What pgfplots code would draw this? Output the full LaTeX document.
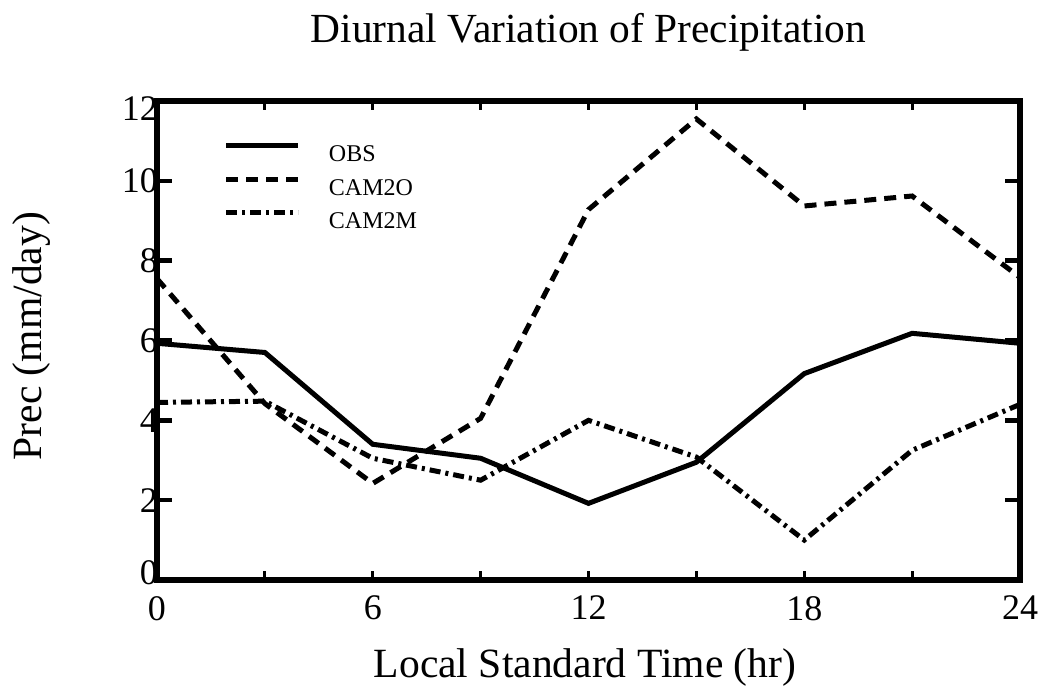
\documentclass[border=0pt]{standalone}
\usepackage{fontspec}
\setmainfont{Liberation Serif}
\usepackage{pgfplots}
\pgfplotsset{compat=1.18}
\begin{document}
\begin{tikzpicture}
\begin{axis}[
  name=ax,
  scale only axis, width=431.5pt, height=239.5pt,
  xmin=0, xmax=24, ymin=0, ymax=12,
  xtick={0,6,...,24}, minor xtick={0,3,...,24}, ytick={0,2,...,12},
  yticklabels={\raisebox{4pt}{0},2,4,6,8,10,\raisebox{-4pt}{12}},
  major x tick style={draw=none},
  minor tick length=4.5pt, major tick length=7.5pt,
  tick align=inside,
  minor x tick style={line width=1.5pt, black},
  major y tick style={line width=2.2pt, black},
  axis line style={line width=2.6pt},
  /pgf/number format/assume math mode=true,
  ticklabel style={font=\fontsize{18}{20}\selectfont},
  xticklabel style={yshift=-4.5pt},
  yticklabel style={xshift=4pt, text height=12pt, text depth=0pt},
  every axis title shift=0pt,
  title={Diurnal Variation of Precipitation},
  title style={font=\fontsize{20.7}{24}\selectfont, at={(axis description cs:0.5,1.1211)}, anchor=base},
  xlabel={Local Standard Time (hr)},
  xlabel style={font=\fontsize{20.8}{24}\selectfont, at={(axis description cs:0.496,-0.203)}, anchor=base},
  ylabel={Prec (mm/day)},
  ylabel style={font=\fontsize{20.8}{24}\selectfont, at={(axis description cs:-0.1333,0.509)}, anchor=base},
  legend style={at={(axis description cs:0.0776,0.9123)}, anchor=north west, draw=none, fill=none,
    inner sep=0pt, outer sep=0pt, row sep=7.6pt, column sep=14pt,
    font=\fontsize{12}{14}\selectfont, nodes={inner sep=0pt, text height=8pt, text depth=0pt}},
  legend cell align=left,
  legend image code/.code={\draw[#1] (0pt,4pt) -- (36pt,4pt);},
]
\addplot[black, line width=2.5pt] coordinates {
  (0,5.93) (3,5.7) (6,3.4) (9,3.05) (12,1.92) (15,2.95) (18,5.17) (21,6.18) (24,5.93)};
\addlegendentry{OBS}
\addplot[black, line width=2.5pt, dash pattern=on 6pt off 4pt] coordinates {
  (0,7.55) (3,4.42) (6,2.42) (9,4.05) (12,9.28) (15,11.55) (18,9.37) (21,9.62) (24,7.58)};
\addlegendentry{CAM2O}
\addplot[black, line width=2.5pt, dash pattern=on 5.5pt off 2.5pt on 1.5pt off 2.5pt] coordinates {
  (0,4.45) (3,4.48) (6,3.05) (9,2.5) (12,4.0) (15,3.08) (18,1.0) (21,3.25) (24,4.4)};
\addlegendentry{CAM2M}
\end{axis}
\pgfresetboundingbox
\path ([shift={(-78.5pt,-52.5pt)}]ax.south west) rectangle ([shift={(11.5pt,50.5pt)}]ax.north east);
\end{tikzpicture}
\end{document}
